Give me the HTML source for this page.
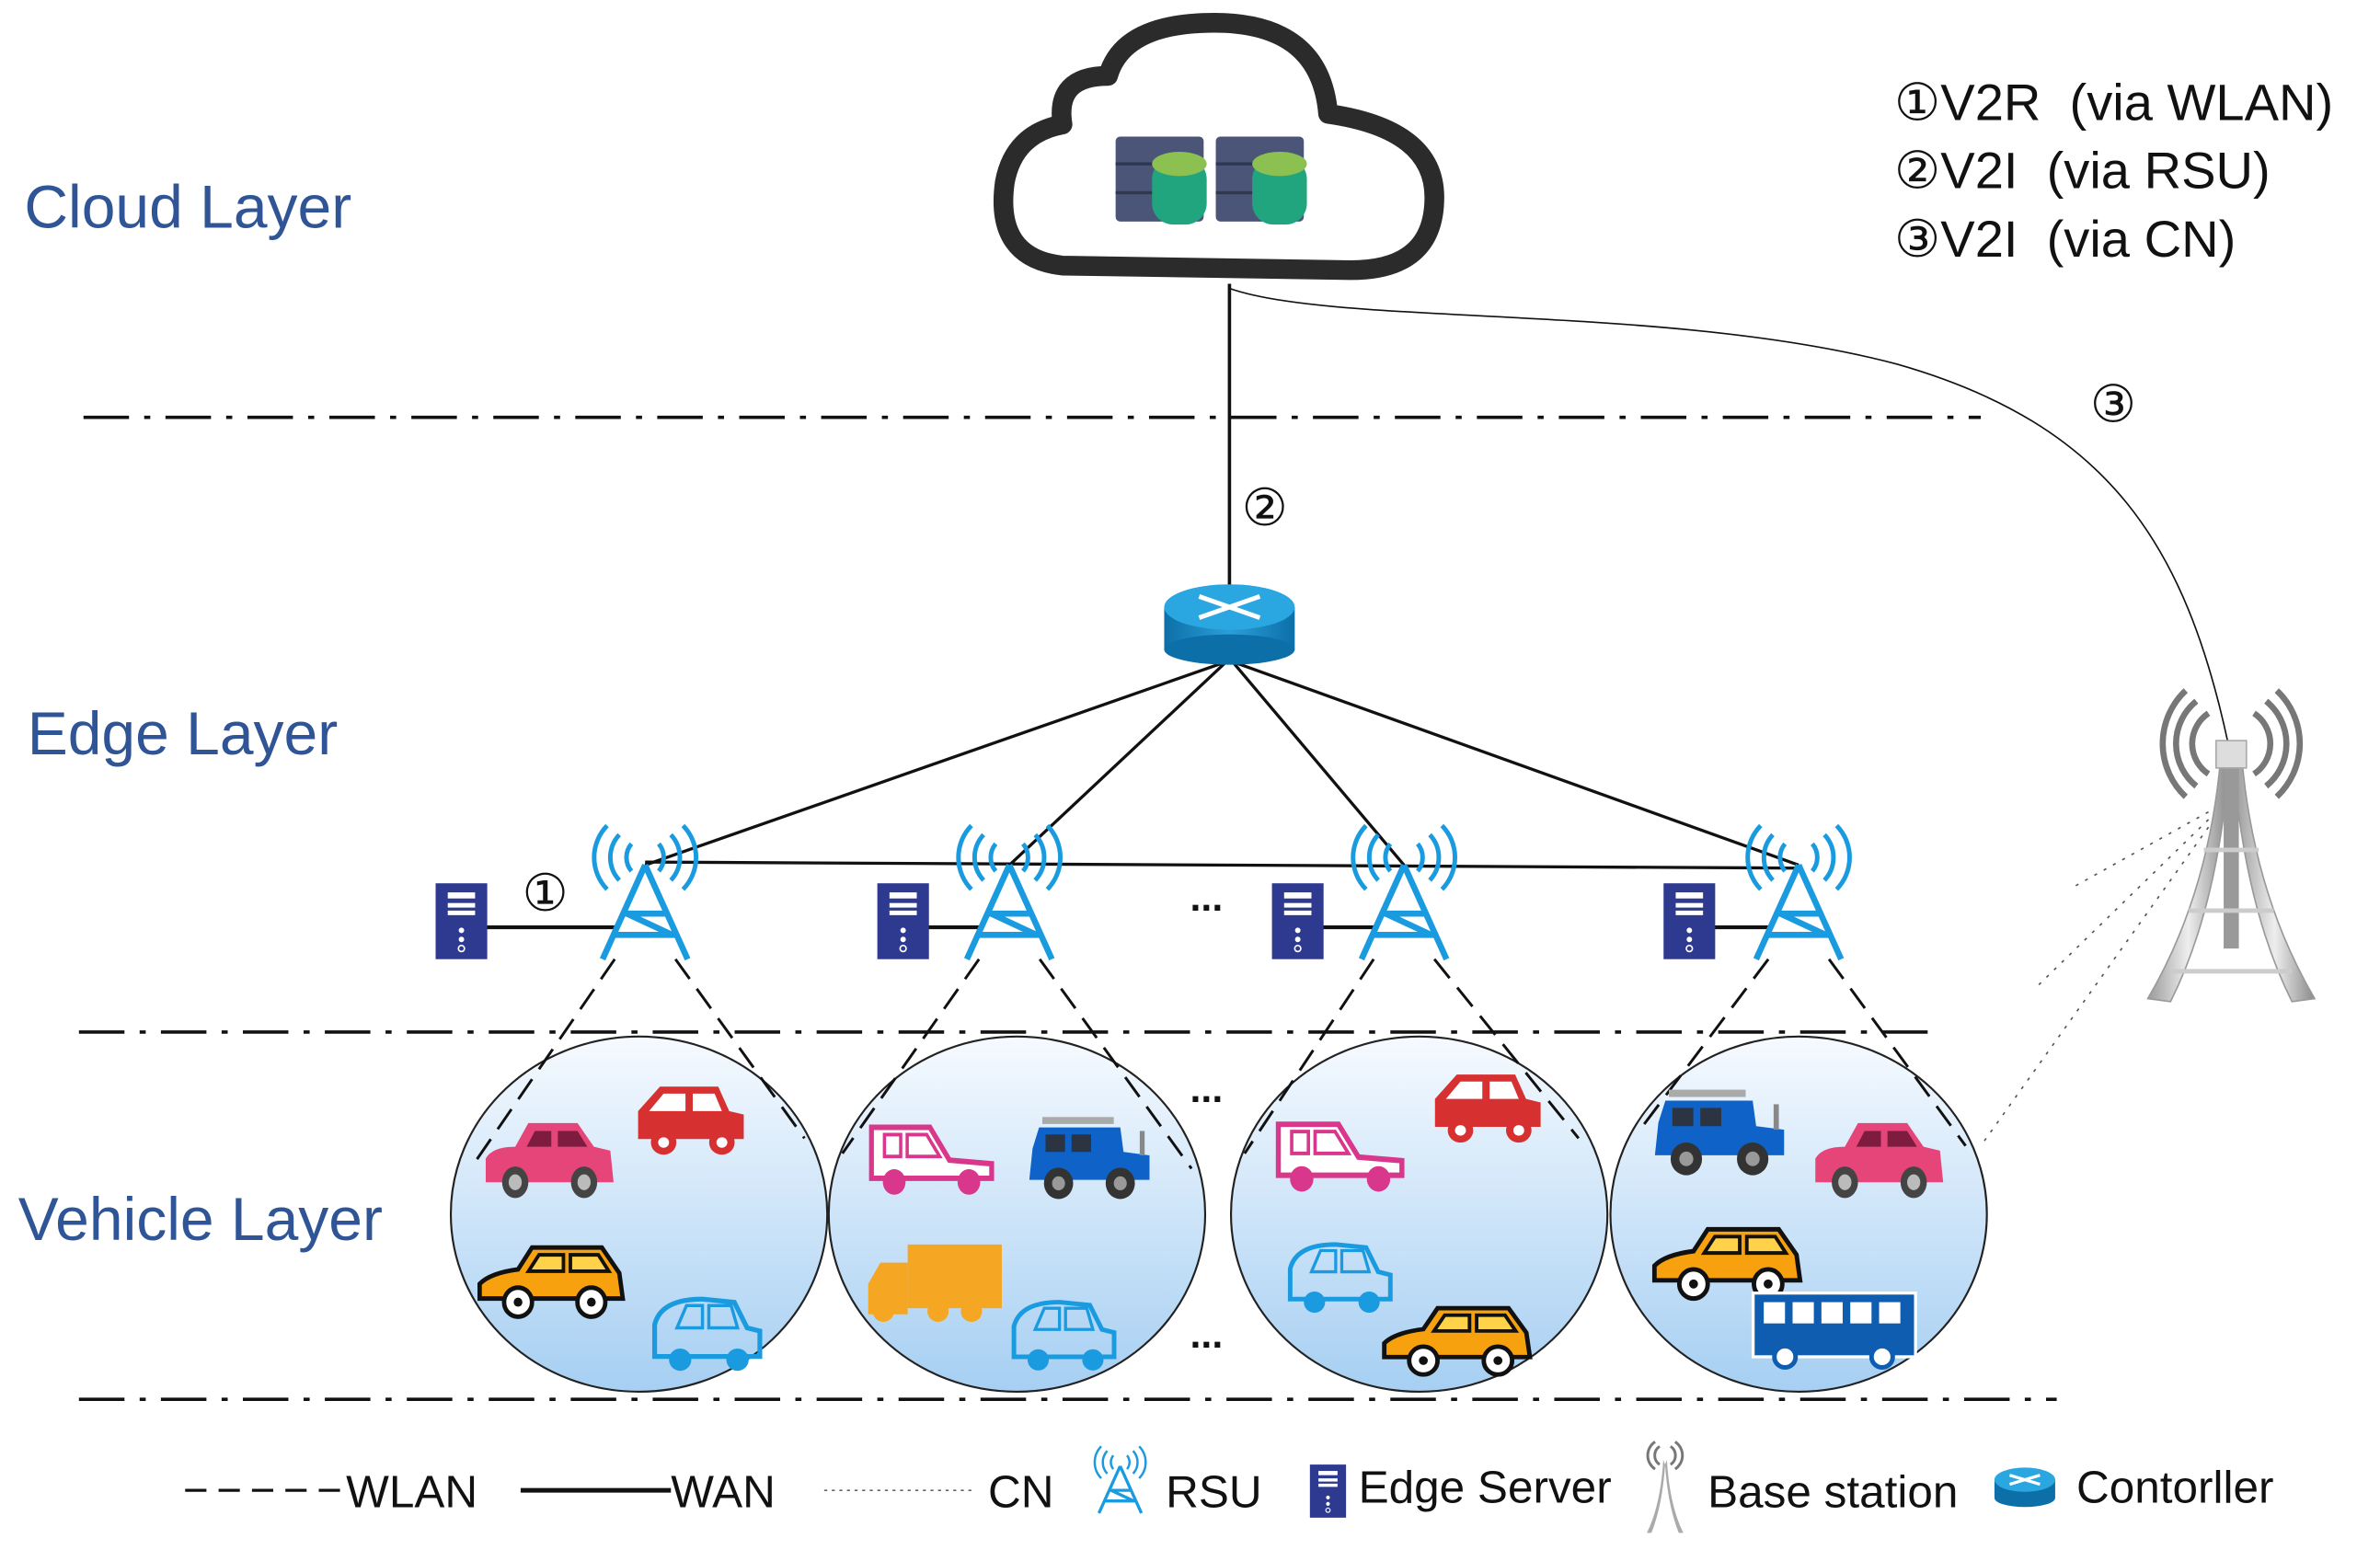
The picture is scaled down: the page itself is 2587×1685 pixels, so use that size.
<!DOCTYPE html>
<html><head><meta charset="utf-8"><style>
html,body{margin:0;padding:0;background:#fff;}
svg{display:block;}
text{font-family:"Liberation Sans",sans-serif;white-space:pre;}
</style></head><body>
<svg width="2587" height="1685" viewBox="0 0 1568 1021.3" xmlns="http://www.w3.org/2000/svg">
<defs>
<linearGradient id="cg" x1="0" y1="0" x2="0" y2="1">
<stop offset="0" stop-color="#f6faff"/><stop offset="1" stop-color="#a6cff2"/></linearGradient>
<linearGradient id="rg" x1="0" y1="0" x2="1" y2="0">
<stop offset="0" stop-color="#0d6fa8"/><stop offset="0.5" stop-color="#2a9fd8"/><stop offset="1" stop-color="#0d6fa8"/></linearGradient>
<linearGradient id="tg" x1="0" y1="0" x2="1" y2="0">
<stop offset="0" stop-color="#9a9a9a"/><stop offset="0.5" stop-color="#eeeeee"/><stop offset="1" stop-color="#8a8a8a"/></linearGradient>
<g id="rsu" fill="none" stroke="#1a9be0" stroke-width="4">
<path d="M0,0 L-28,62 M0,0 L28,62 M-14,32 L14,32 M-20,46 L20,46 M-12,32 L18,46"/>
<path d="M-9,-14 a14,14 0 0,0 0,18 M9,-14 a14,14 0 0,1 0,18 M-17,-20 a22,22 0 0,0 0,30 M17,-20 a22,22 0 0,1 0,30 M-25,-26 a30,30 0 0,0 0,42 M25,-26 a30,30 0 0,1 0,42" stroke-width="3"/>
</g>
<g id="srv">
<rect x="0" y="0" width="34" height="50" fill="#2d3a8f"/>
<rect x="8" y="6" width="18" height="4" fill="#fff"/><rect x="8" y="13" width="18" height="3" fill="#fff"/><rect x="8" y="18" width="18" height="3" fill="#fff"/>
<circle cx="17" cy="31" r="1.8" fill="#fff"/><circle cx="17" cy="37" r="1.8" fill="#fff"/><circle cx="17" cy="43" r="2" fill="none" stroke="#fff" stroke-width="1"/>
</g>
<g id="sedan">
<path d="M0,30 L0,18 Q4,12 18,12 L26,0 L56,0 L66,12 L76,14 L78,30 Z" fill="currentColor"/>
<path d="M30,4 L40,4 L40,12 L25,12 Z M44,4 L56,4 L62,12 L44,12 Z" fill="#6b1535" opacity="0.85"/>
<circle cx="18" cy="30" r="8" fill="#444"/><circle cx="18" cy="30" r="4" fill="#bbb"/>
<circle cx="60" cy="30" r="8" fill="#444"/><circle cx="60" cy="30" r="4" fill="#bbb"/>
</g>
<g id="hatch">
<path d="M2,30 L2,14 L14,0 L46,0 L52,14 L60,16 L60,30 Z" fill="currentColor"/>
<path d="M16,4 L28,4 L28,14 L8,14 Z M32,4 L44,4 L48,14 L32,14 Z" fill="#fff"/>
<circle cx="16" cy="32" r="7" fill="currentColor"/><circle cx="16" cy="32" r="3" fill="#fff"/>
<circle cx="48" cy="32" r="7" fill="currentColor"/><circle cx="48" cy="32" r="3" fill="#fff"/>
</g>
<g id="outline">
<path d="M2,32 L2,4 L38,4 L50,22 L76,24 L76,32 Z" fill="#fff" stroke="currentColor" stroke-width="3"/>
<path d="M10,8 L20,8 L20,20 L10,20 Z M24,8 L36,8 L44,20 L24,20 Z" fill="none" stroke="currentColor" stroke-width="2"/>
<circle cx="16" cy="34" r="7" fill="currentColor"/><circle cx="62" cy="34" r="7" fill="currentColor"/>
</g>
<g id="wagon">
<path d="M0,28 L0,20 Q6,14 22,12 L30,0 L70,0 L80,14 L82,28 Z" fill="#f7a10e" stroke="#111" stroke-width="2.5"/>
<path d="M34,4 L48,4 L48,13 L28,13 Z M52,4 L68,4 L74,13 L52,13 Z" fill="#ffd24a" stroke="#111" stroke-width="2"/>
<circle cx="22" cy="30" r="8" fill="#fff" stroke="#111" stroke-width="2.5"/><circle cx="22" cy="30" r="2.5" fill="#111"/>
<circle cx="64" cy="30" r="8" fill="#fff" stroke="#111" stroke-width="2.5"/><circle cx="64" cy="30" r="2.5" fill="#111"/>
</g>
<g id="blue">
<path d="M6,36 L6,16 Q10,0 36,0 L56,2 L64,18 L72,20 L72,36 Z" fill="none" stroke="#1a9be0" stroke-width="3"/>
<path d="M26,4 L36,4 L36,18 L20,18 Z M40,4 L54,4 L58,18 L40,18 Z" fill="none" stroke="#1a9be0" stroke-width="2"/>
<circle cx="22" cy="38" r="7" fill="#1a9be0"/><circle cx="58" cy="38" r="7" fill="#1a9be0"/>
</g>
<g id="jeep">
<rect x="10" y="0" width="44" height="4" fill="#aaa"/>
<path d="M4,18 L8,6 L58,6 L60,20 L76,22 L76,36 L2,36 Z" fill="#0e62c8"/>
<rect x="12" y="10" width="12" height="10" fill="#2b3440"/><rect x="28" y="10" width="12" height="10" fill="#2b3440"/>
<rect x="70" y="8" width="3" height="14" fill="#888"/>
<circle cx="20" cy="38" r="9" fill="#333"/><circle cx="20" cy="38" r="4" fill="#999"/>
<circle cx="58" cy="38" r="9" fill="#333"/><circle cx="58" cy="38" r="4" fill="#999"/>
</g>
</defs>

<g stroke="#111" stroke-width="2.2" fill="none" stroke-dasharray="30,10,4,10">
<line x1="55" y1="275" x2="1305" y2="275"/>
<line x1="52" y1="680" x2="1280" y2="680"/>
<line x1="52" y1="922" x2="1355" y2="922"/>
</g>

<g fill="#2f5597" font-size="40">
<text x="16" y="150">Cloud Layer</text>
<text x="18" y="497">Edge Layer</text>
<text x="12" y="817">Vehicle Layer</text>
</g>

<g fill="#111" font-size="34">
<text x="1248" y="79">①V2R  (via WLAN)</text>
<text x="1248" y="124">②V2I  (via RSU)</text>
<text x="1248" y="169">③V2I  (via CN)</text>
</g>

<path d="M700,175 Q655,170 662,120 Q668,88 700,82 Q695,50 730,50 Q740,15 800,15 Q870,15 875,75 Q945,85 945,130 Q945,178 890,178 Z" fill="#fff" stroke="#2b2b2b" stroke-width="13" stroke-linejoin="round"/>
<g>
<rect x="735" y="90" width="58" height="56" rx="3" fill="#4a5577"/>
<rect x="801" y="90" width="58" height="56" rx="3" fill="#4a5577"/>
<g stroke="#2f3850" stroke-width="2"><line x1="735" y1="108" x2="793" y2="108"/><line x1="735" y1="127" x2="793" y2="127"/><line x1="801" y1="108" x2="859" y2="108"/><line x1="801" y1="127" x2="859" y2="127"/></g>
<rect x="759" y="104" width="36" height="44" rx="14" fill="#20a57e"/>
<ellipse cx="777" cy="108" rx="18" ry="8" fill="#8cc152"/>
<rect x="825" y="104" width="36" height="44" rx="14" fill="#20a57e"/>
<ellipse cx="843" cy="108" rx="18" ry="8" fill="#8cc152"/>
</g>

<line x1="810" y1="187" x2="810" y2="392" stroke="#111" stroke-width="2.2"/>
<text x="818" y="346" font-size="34" fill="#111">②</text>
<path d="M810,190 C 880,215 1100,200 1250,240 C 1390,280 1440,360 1468,490" fill="none" stroke="#111" stroke-width="1"/>
<text x="1377" y="278" font-size="34" fill="#111">③</text>

<g stroke="#111" stroke-width="2" fill="none">
<line x1="808" y1="436" x2="425" y2="570"/>
<line x1="808" y1="436" x2="665" y2="570"/>
<line x1="812" y1="436" x2="925" y2="570"/>
<line x1="812" y1="436" x2="1185" y2="570"/>
<line x1="425" y1="568" x2="1185" y2="572"/>
</g>

<g>
<rect x="767" y="400" width="86" height="28" fill="url(#rg)"/>
<ellipse cx="810" cy="428" rx="43" ry="10" fill="#0d6fa8"/>
<ellipse cx="810" cy="400" rx="43" ry="15" fill="#2aa6e0"/>
<g stroke="#fff" stroke-width="3"><line x1="790" y1="393" x2="830" y2="407"/><line x1="790" y1="407" x2="830" y2="393"/></g>
</g>

<g stroke="#111" stroke-width="2.5">
<line x1="320" y1="611" x2="405" y2="611"/><line x1="611" y1="611" x2="645" y2="611"/>
<line x1="871" y1="611" x2="905" y2="611"/><line x1="1129" y1="611" x2="1165" y2="611"/>
</g>
<use href="#srv" x="287" y="582"/><use href="#srv" x="578" y="582"/><use href="#srv" x="838" y="582"/><use href="#srv" x="1096" y="582"/>
<use href="#rsu" x="425" y="570"/><use href="#rsu" x="665" y="570"/><use href="#rsu" x="925" y="570"/><use href="#rsu" x="1185" y="570"/>
<text x="344" y="600" font-size="34" fill="#111">①</text>
<text x="784" y="600" font-size="26" fill="#111" font-weight="bold">...</text>
<text x="784" y="726" font-size="26" fill="#111" font-weight="bold">...</text>
<text x="784" y="888" font-size="26" fill="#111" font-weight="bold">...</text>

<g stroke="#222" stroke-width="1.3" fill="url(#cg)">
<ellipse cx="421" cy="800" rx="124" ry="117"/>
<ellipse cx="670" cy="800" rx="124" ry="117"/>
<ellipse cx="935" cy="800" rx="124" ry="117"/>
<ellipse cx="1185" cy="800" rx="124" ry="117"/>
</g>
<g stroke="#111" stroke-width="1.8" stroke-dasharray="16,8" fill="none">
<line x1="405" y1="632" x2="310" y2="770"/><line x1="445" y1="632" x2="530" y2="750"/>
<line x1="645" y1="632" x2="555" y2="760"/><line x1="685" y1="632" x2="785" y2="770"/>
<line x1="905" y1="632" x2="820" y2="760"/><line x1="945" y1="632" x2="1040" y2="750"/>
<line x1="1165" y1="632" x2="1080" y2="745"/><line x1="1205" y1="632" x2="1295" y2="755"/>
</g>

<g style="color:#e6457a"><use href="#sedan" transform="translate(320,740) scale(1.08,1.3)"/></g>
<g style="color:#d63030"><use href="#hatch" transform="translate(418,716) scale(1.2,1.15)"/></g>
<use href="#wagon" transform="translate(316,822) scale(1.15,1.2)"/>
<use href="#blue" transform="translate(425,856) scale(1.05,1.05)"/>
<g style="color:#d9378b"><use href="#outline" transform="translate(572,738) scale(1.07,1.2)"/></g>
<use href="#jeep" transform="translate(676,736) scale(1.07,1.15)"/>
<g><rect x="598" y="820" width="62" height="42" fill="#f5a623"/><path d="M572,866 L572,846 L580,832 L598,832 L598,866 Z" fill="#f5a623"/><circle cx="582" cy="864" r="7" fill="#f5a623"/><circle cx="618" cy="864" r="7" fill="#f5a623"/><circle cx="640" cy="864" r="7" fill="#f5a623"/></g>
<use href="#blue" x="662" y="858"/>
<g style="color:#d9378b"><use href="#outline" transform="translate(840,736) scale(1.1,1.2)"/></g>
<g style="color:#d63030"><use href="#hatch" transform="translate(943,708) scale(1.2,1.15)"/></g>
<use href="#blue" x="844" y="820"/>
<use href="#wagon" transform="translate(912,862) scale(1.17,1.15)"/>
<use href="#jeep" transform="translate(1088,718) scale(1.15,1.2)"/>
<g style="color:#e6457a"><use href="#sedan" transform="translate(1196,740) scale(1.08,1.3)"/></g>
<use href="#wagon" transform="translate(1090,810) scale(1.17,1.2)"/>
<g><rect x="1155" y="852" width="107" height="42" fill="#0e5db0" stroke="#fff" stroke-width="2"/>
<g fill="#fff"><rect x="1162" y="858" width="14" height="14"/><rect x="1181" y="858" width="14" height="14"/><rect x="1200" y="858" width="14" height="14"/><rect x="1219" y="858" width="14" height="14"/><rect x="1238" y="858" width="14" height="14"/></g>
<circle cx="1176" cy="894" r="7" fill="#fff" stroke="#0e5db0" stroke-width="3"/><circle cx="1240" cy="894" r="7" fill="#fff" stroke="#0e5db0" stroke-width="3"/></g>

<g stroke="#555" stroke-width="1" stroke-dasharray="2,5" fill="none">
<line x1="1455" y1="535" x2="1365" y2="585"/>
<line x1="1455" y1="540" x2="1340" y2="652"/>
<line x1="1455" y1="545" x2="1305" y2="755"/>
</g>
<g>
<path d="M1463,500 Q1455,590 1415,658 L1430,660 Q1460,600 1468,510 Z" fill="url(#tg)" stroke="#999" stroke-width="1"/>
<path d="M1477,500 Q1485,590 1525,658 L1510,660 Q1480,600 1472,510 Z" fill="url(#tg)" stroke="#999" stroke-width="1"/>
<rect x="1465" y="505" width="10" height="120" fill="#999"/>
<g stroke="#ccc" stroke-width="3"><line x1="1452" y1="560" x2="1488" y2="560"/><line x1="1442" y1="600" x2="1498" y2="600"/><line x1="1430" y1="640" x2="1510" y2="640"/></g>
<rect x="1460" y="488" width="20" height="18" fill="#ddd" stroke="#aaa"/>
<g fill="none" stroke="#777" stroke-width="4">
<path d="M1455,470 a24,24 0 0,0 0,40 M1485,470 a24,24 0 0,1 0,40"/>
<path d="M1447,462 a36,36 0 0,0 0,56 M1493,462 a36,36 0 0,1 0,56"/>
<path d="M1440,455 a48,48 0 0,0 0,70 M1500,455 a48,48 0 0,1 0,70"/>
</g>
</g>

<line x1="122" y1="982" x2="226" y2="982" stroke="#111" stroke-width="2" stroke-dasharray="14,8"/>
<line x1="343" y1="982" x2="442" y2="982" stroke="#111" stroke-width="3"/>
<line x1="543" y1="982" x2="640" y2="982" stroke="#666" stroke-width="1" stroke-dasharray="2,3"/>
<g fill="#111" font-size="30">
<text x="228" y="993">WLAN</text>
<text x="442" y="993">WAN</text>
<text x="651" y="993">CN</text>
<text x="768" y="993">RSU</text>
<text x="895" y="990">Edge Server</text>
<text x="1125" y="993">Base station</text>
<text x="1368" y="990">Contorller</text>
</g>
<g transform="translate(738,966) scale(0.5)"><use href="#rsu"/></g>
<g transform="translate(863,965) scale(0.7)"><use href="#srv"/></g>
<g transform="translate(1097,1010) scale(0.3)">
<path d="M-4,-160 Q-10,-60 -40,0 L-30,0 Q-6,-60 0,-150 Z M4,-160 Q10,-60 40,0 L30,0 Q6,-60 0,-150 Z" fill="#aaa"/>
<g fill="none" stroke="#777" stroke-width="6"><path d="M-12,-190 a24,24 0 0,0 0,40 M12,-190 a24,24 0 0,1 0,40 M-22,-200 a36,36 0 0,0 0,60 M22,-200 a36,36 0 0,1 0,60"/></g>
</g>
<g><rect x="1314" y="975" width="40" height="12" fill="#0d6fa8"/><ellipse cx="1334" cy="987" rx="20" ry="6" fill="#0d6fa8"/><ellipse cx="1334" cy="975" rx="20" ry="8" fill="#2aa6e0"/><g stroke="#fff" stroke-width="2"><line x1="1324" y1="972" x2="1344" y2="978"/><line x1="1324" y1="978" x2="1344" y2="972"/></g></g>
</svg>
</body></html>
